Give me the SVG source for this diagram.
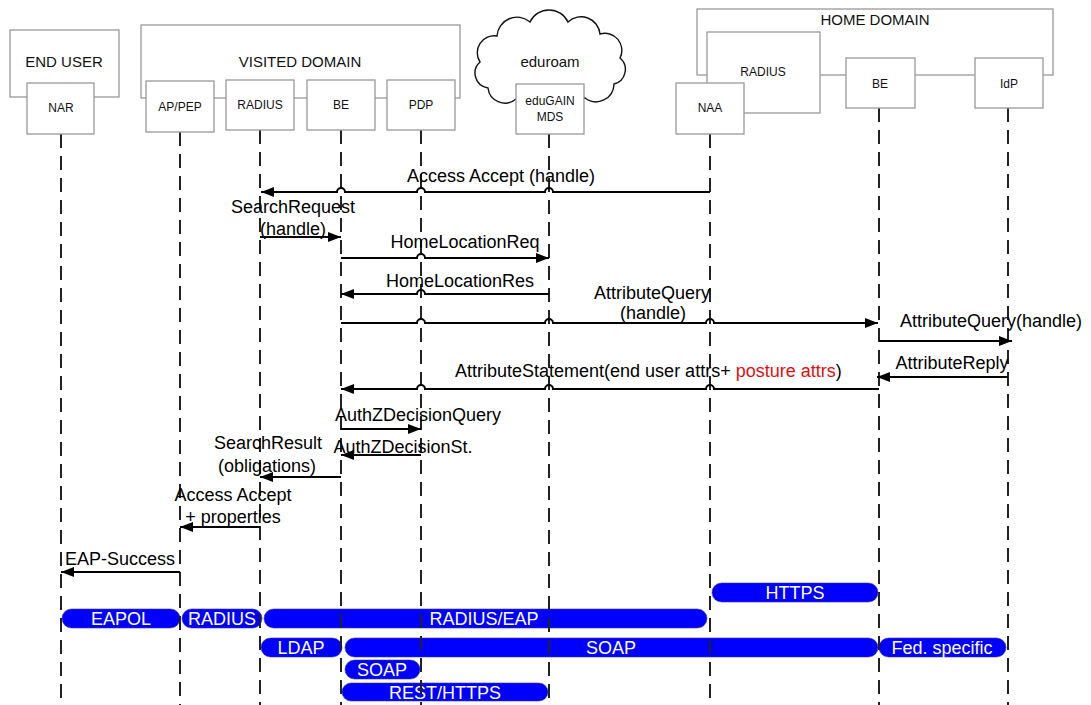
<svg xmlns="http://www.w3.org/2000/svg" width="1091" height="705" viewBox="0 0 1091 705">
<style>
.box{fill:#fff;stroke:#999;stroke-width:1.3}
text{font-family:"Liberation Sans",Arial,sans-serif;fill:#111}
.lbl{font-size:12px;text-anchor:middle}
.dom{font-size:15px;text-anchor:middle}
.life{stroke:#222;stroke-width:2;stroke-dasharray:14 8;fill:none}
.msg{stroke:#000;stroke-width:2;fill:none;marker-end:url(#ah)}
.mt{font-size:18px;text-anchor:middle;fill:#000}
.bar{fill:#0000ff;stroke:#3a3a9a;stroke-width:0.6}
.bt{fill:#fff;font-size:18px;text-anchor:middle}
.red{fill:#e01010}
</style>
<defs>
<marker id="ah" markerUnits="userSpaceOnUse" markerWidth="13" markerHeight="10" refX="13" refY="5" orient="auto">
<path d="M0,0 L13,5 L0,10 z" fill="#000"/>
</marker>
</defs>
<rect width="1091" height="705" fill="#fff"/>

<!-- protocol bars -->
<g id="bars">
<g id="bar-https"><rect class="bar" x="712" y="583" width="166" height="19" rx="9.5"/><text class="bt" x="795" y="599">HTTPS</text></g>
<g id="bar-eapol"><rect class="bar" x="62" y="609" width="118" height="19" rx="9.5"/><text class="bt" x="121" y="625">EAPOL</text></g>
<g id="bar-radius"><rect class="bar" x="182" y="609" width="80" height="19" rx="9.5"/><text class="bt" x="222" y="625">RADIUS</text></g>
<g id="bar-radiuseap"><rect class="bar" x="264" y="609" width="443" height="19" rx="9.5"/><text class="bt" x="484" y="625">RADIUS/EAP</text></g>
<g id="bar-ldap"><rect class="bar" x="261" y="638" width="81" height="19" rx="9.5"/><text class="bt" x="301" y="654">LDAP</text></g>
<g id="bar-soap"><rect class="bar" x="345" y="638" width="533" height="19" rx="9.5"/><text class="bt" x="611" y="654">SOAP</text></g>
<g id="bar-fed"><rect class="bar" x="879" y="638" width="127" height="19" rx="9.5"/><text class="bt" x="942" y="654">Fed. specific</text></g>
<g id="bar-soap2"><rect class="bar" x="345" y="660" width="75" height="19" rx="9.5"/><text class="bt" x="382" y="676">SOAP</text></g>
<g id="bar-rest"><rect class="bar" x="342" y="683" width="206" height="18" rx="9"/><text class="bt" x="445" y="699">REST/HTTPS</text></g>
</g>

<!-- domains -->
<g id="end-user">
<rect class="box" x="10" y="30" width="109" height="67"/>
<text class="dom" x="64" y="67">END USER</text>
</g>
<g id="visited-domain">
<rect class="box" x="141" y="25" width="319" height="73"/>
<text class="dom" x="300" y="67">VISITED DOMAIN</text>
</g>
<g id="eduroam">
<path class="box" d="M516,99 A17,17 0 0 1 488,88 A15,15 0 0 1 480,62 A17,17 0 0 1 497,36 A20,20 0 0 1 530,22 A21,21 0 0 1 568,22 A19,19 0 0 1 600,34 A17,17 0 0 1 620,58 A15,15 0 0 1 614,84 A18,18 0 0 1 585,98 Z" style="stroke:#111;stroke-width:1.4"/>
<text class="dom" x="550" y="67">eduroam</text>
</g>
<g id="home-domain">
<rect class="box" x="697" y="9" width="356" height="66"/>
<text class="dom" x="875" y="25">HOME DOMAIN</text>
</g>
<g id="home-radius">
<rect class="box" x="707" y="32" width="113" height="81"/>
<text class="lbl" x="763" y="76">RADIUS</text>
</g>

<!-- lifelines -->
<g id="lifelines">
<line class="life" x1="61" y1="134" x2="61" y2="705"/>
<line class="life" x1="180" y1="132" x2="180" y2="705"/>
<line class="life" x1="260" y1="130" x2="260" y2="705"/>
<line class="life" x1="341" y1="130" x2="341" y2="705"/>
<line class="life" x1="421" y1="130" x2="421" y2="705"/>
<line class="life" x1="549" y1="134" x2="549" y2="705"/>
<line class="life" x1="710" y1="134" x2="710" y2="705"/>
<line class="life" x1="879" y1="108" x2="879" y2="705"/>
<line class="life" x1="1008" y1="108" x2="1008" y2="705"/>
</g>

<!-- participant nodes -->
<g id="nar"><rect class="box" x="27" y="83" width="67" height="51"/><text class="lbl" x="61" y="112">NAR</text></g>
<g id="ap-pep"><rect class="box" x="146" y="81" width="68" height="51"/><text class="lbl" x="180" y="111">AP/PEP</text></g>
<g id="v-radius"><rect class="box" x="226" y="80" width="68" height="50"/><text class="lbl" x="260" y="109">RADIUS</text></g>
<g id="v-be"><rect class="box" x="307" y="80" width="68" height="50"/><text class="lbl" x="341" y="109">BE</text></g>
<g id="pdp"><rect class="box" x="387" y="80" width="68" height="50"/><text class="lbl" x="421" y="109">PDP</text></g>
<g id="edugain"><rect class="box" x="516" y="84" width="68" height="50"/><text class="lbl" x="550" y="105">eduGAIN</text><text class="lbl" x="550" y="121">MDS</text></g>
<g id="naa"><rect class="box" x="676" y="83" width="68" height="51"/><text class="lbl" x="710" y="112">NAA</text></g>
<g id="h-be"><rect class="box" x="846" y="58" width="69" height="50"/><text class="lbl" x="880" y="88">BE</text></g>
<g id="idp"><rect class="box" x="975" y="58" width="68" height="50"/><text class="lbl" x="1009" y="88">IdP</text></g>

<!-- messages -->
<g id="connectors">
<path class="msg" d="M710,192 L553,192 A4,4 0 0 0 545,192 L425,192 A4,4 0 0 0 417,192 L345,192 A4,4 0 0 0 337,192 L261,192"/>
<path class="msg" d="M260,237 L341,237"/>
<path class="msg" d="M341,258 L417,258 A4,4 0 0 1 425,258 L549,258"/>
<path class="msg" d="M549,294 L425,294 A4,4 0 0 0 417,294 L341,294"/>
<path class="msg" d="M341,323 L417,323 A4,4 0 0 1 425,323 L545,323 A4,4 0 0 1 553,323 L706,323 A4,4 0 0 1 714,323 L878,323"/>
<path class="msg" d="M879,341 L1012,341"/>
<path class="msg" d="M1008,377 L877,377"/>
<path class="msg" d="M879,389 L714,389 A4,4 0 0 0 706,389 L553,389 A4,4 0 0 0 545,389 L425,389 A4,4 0 0 0 417,389 L341,389"/>
<path class="msg" d="M341,429 L421,429"/>
<path class="msg" d="M421,455 L341,455"/>
<path class="msg" d="M341,477 L260,477"/>
<path class="msg" d="M260,527 L180,527"/>
<path class="msg" d="M180,572 L61,572"/>
</g>

<g id="message-labels">
<text class="mt" x="501" y="182">Access Accept (handle)</text>
<text class="mt" x="293" y="213">SearchRequest</text>
<text class="mt" x="293" y="235">(handle)</text>
<text class="mt" x="465" y="248">HomeLocationReq</text>
<text class="mt" x="460" y="287">HomeLocationRes</text>
<text class="mt" x="652" y="299">AttributeQuery</text>
<text class="mt" x="653" y="319">(handle)</text>
<text class="mt" x="991" y="327">AttributeQuery(handle)</text>
<text class="mt" x="952" y="369">AttributeReply</text>
<text class="mt" x="455" y="377" style="text-anchor:start">AttributeStatement(end user attrs+ <tspan class="red">posture attrs</tspan>)</text>
<text class="mt" x="418" y="421">AuthZDecisionQuery</text>
<text class="mt" x="403" y="453">AuthZDecisionSt.</text>
<text class="mt" x="268" y="449">SearchResult</text>
<text class="mt" x="267" y="472">(obligations)</text>
<text class="mt" x="233" y="501">Access Accept</text>
<text class="mt" x="233" y="523">+ properties</text>
<text class="mt" x="120" y="565">EAP-Success</text>
</g>
</svg>
